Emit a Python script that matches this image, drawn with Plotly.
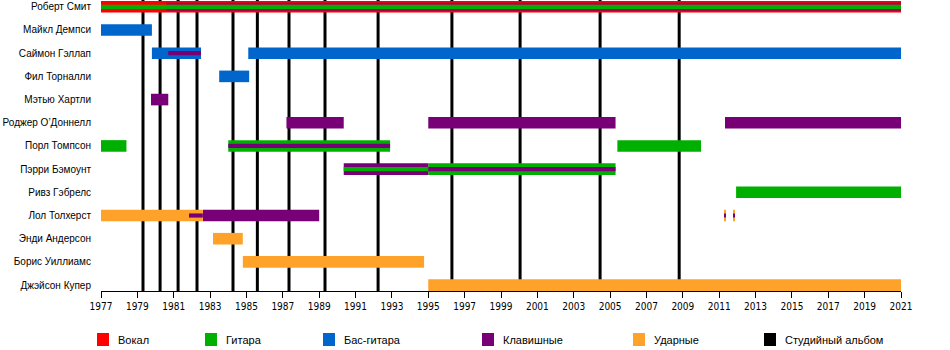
import plotly.graph_objects as go

members = ["Роберт Смит", "Майкл Демпси", "Саймон Гэллап", "Фил Торналли", "Мэтью Хартли",
           "Роджер О’Доннелл", "Порл Томпсон", "Пэрри Бэмоунт", "Ривз Гэбрелс", "Лол Толхерст",
           "Энди Андерсон", "Борис Уиллиамс", "Джэйсон Купер"]

# Main bars per role: member, start, end
vocals_who = ["Роберт Смит"]
vocals_start = [1977.0]
vocals_end = [2021.0]

guitar_who = ["Порл Томпсон", "Порл Томпсон", "Порл Томпсон", "Пэрри Бэмоунт", "Ривз Гэбрелс"]
guitar_start = [1977.0, 1984.0, 2005.4, 1995.0, 2011.93]
guitar_end = [1978.4, 1992.9, 2010.0, 2005.3, 2021.0]

bass_who = ["Майкл Демпси", "Саймон Гэллап", "Саймон Гэллап", "Фил Торналли"]
bass_start = [1977.0, 1979.8, 1985.1, 1983.5]
bass_end = [1979.8, 1982.5, 2021.0, 1985.15]

keys_who = ["Мэтью Хартли", "Роджер О’Доннелл", "Роджер О’Доннелл", "Роджер О’Доннелл",
            "Пэрри Бэмоунт", "Лол Толхерст"]
keys_start = [1979.75, 1987.2, 1995.0, 2011.32, 1990.35, 1982.6]
keys_end = [1980.7, 1990.35, 2005.3, 2021.0, 1995.0, 1989.0]

drums_who = ["Лол Толхерст", "Лол Толхерст", "Лол Толхерст", "Энди Андерсон",
             "Борис Уиллиамс", "Джэйсон Купер"]
drums_start = [1977.0, 2011.28, 2011.78, 1983.16, 1984.8, 1995.0]
drums_end = [1982.6, 2011.36, 2011.86, 1984.8, 1994.77, 2021.0]

# Secondary roles (thinner bands)
keys_band_who = ["Роберт Смит"]
keys_band_start = [1980.6]
keys_band_end = [2021.0]

guitar_stripe_who = ["Роберт Смит", "Пэрри Бэмоунт"]
guitar_stripe_start = [1977.0, 1990.35]
guitar_stripe_end = [2021.0, 1995.0]

keys_stripe_who = ["Саймон Гэллап", "Порл Томпсон", "Пэрри Бэмоунт", "Лол Толхерст",
                   "Лол Толхерст", "Лол Толхерст"]
keys_stripe_start = [1980.7, 1984.0, 1995.0, 1981.84, 2011.28, 2011.78]
keys_stripe_end = [1982.5, 1992.9, 2005.3, 1982.6, 2011.36, 2011.86]

albums = [1979.31, 1980.25, 1981.24, 1982.28, 1984.26, 1985.6, 1987.34, 1989.32,
          1992.24, 1996.3, 2000.05, 2004.45, 2008.8]

year_ticks = list(range(1977, 2022, 2))

legend_labels = ["Вокал", "Гитара", "Бас-гитара", "Клавишные", "Ударные", "Студийный альбом"]

C_VOC = "#ff0000"
C_GTR = "#00b000"
C_BASS = "#0066cc"
C_KEYS = "#770077"
C_DRUM = "#ffa229"
C_ALB = "#000000"

W, H = 950, 350
ML, MR, MT, MB = 101, 49, 0, 59

fig = go.Figure()


def add_bars(who, start, end, color, width, opacity=1.0):
    fig.add_trace(go.Bar(
        y=who, x=[e - s for s, e in zip(start, end)], base=start,
        orientation="h", width=width, marker=dict(color=color, line=dict(width=0)),
        opacity=opacity, showlegend=False, hoverinfo="skip"))


add_bars(vocals_who, vocals_start, vocals_end, C_VOC, 0.5)
add_bars(guitar_who, guitar_start, guitar_end, C_GTR, 0.5)
add_bars(bass_who, bass_start, bass_end, C_BASS, 0.5)
add_bars(keys_who, keys_start, keys_end, C_KEYS, 0.5)
add_bars(drums_who, drums_start, drums_end, C_DRUM, 0.5)
add_bars(keys_band_who, keys_band_start, keys_band_end, C_KEYS, 0.36, opacity=0.55)
add_bars(guitar_stripe_who, guitar_stripe_start, guitar_stripe_end, C_GTR, 0.18)
add_bars(keys_stripe_who, keys_stripe_start, keys_stripe_end, C_KEYS, 0.18)

for a in albums:
    fig.add_shape(type="line", xref="x", yref="paper", x0=a, x1=a, y0=0, y1=1,
                  line=dict(color=C_ALB, width=3), layer="below")

# Legend drawn manually (pixel layout)
plot_w = W - ML - MR
plot_h = H - MT - MB
legend_px = [97, 205, 323, 482, 633, 764]
legend_colors = [C_VOC, C_GTR, C_BASS, C_KEYS, C_DRUM, C_ALB]
def px_to_paper_x(px):
    return (px - ML) / plot_w
def py_to_paper_y(py):
    return (plot_h + MT - py) / plot_h

for px, lab, col in zip(legend_px, legend_labels, legend_colors):
    fig.add_shape(type="rect", xref="paper", yref="paper",
                  x0=px_to_paper_x(px), x1=px_to_paper_x(px + 12),
                  y0=py_to_paper_y(346), y1=py_to_paper_y(333),
                  fillcolor=col, line=dict(width=0))
    fig.add_annotation(xref="paper", yref="paper", x=px_to_paper_x(px + 19),
                       y=py_to_paper_y(340), text=lab, showarrow=False,
                       xanchor="left", yanchor="middle",
                       font=dict(size=11, color="#000000",
                                 family="Liberation Sans, Arial"))

fig.update_layout(
    width=W, height=H,
    margin=dict(l=ML, r=MR, t=MT, b=MB, autoexpand=False),
    barmode="overlay",
    plot_bgcolor="white", paper_bgcolor="white",
    font=dict(family="Liberation Sans, Arial", color="#000000"),
    xaxis=dict(range=[1977, 2021], tickvals=year_ticks, ticktext=[str(y) for y in year_ticks],
               automargin=False,
               showgrid=False, zeroline=False, showline=True, linecolor="black", linewidth=1,
               ticks="outside", ticklen=6, tickcolor="black", tickwidth=1,
               tickfont=dict(size=10, family="DejaVu Sans Condensed, Liberation Sans, Arial")),
    yaxis=dict(categoryorder="array", categoryarray=members, tickvals=members,
               automargin=False,
               range=[12.255, -0.293], showgrid=False, zeroline=False, showline=False,
               ticks="", ticklabelstandoff=9, tickfont=dict(size=10)),
)

fig.write_html("out.html")
